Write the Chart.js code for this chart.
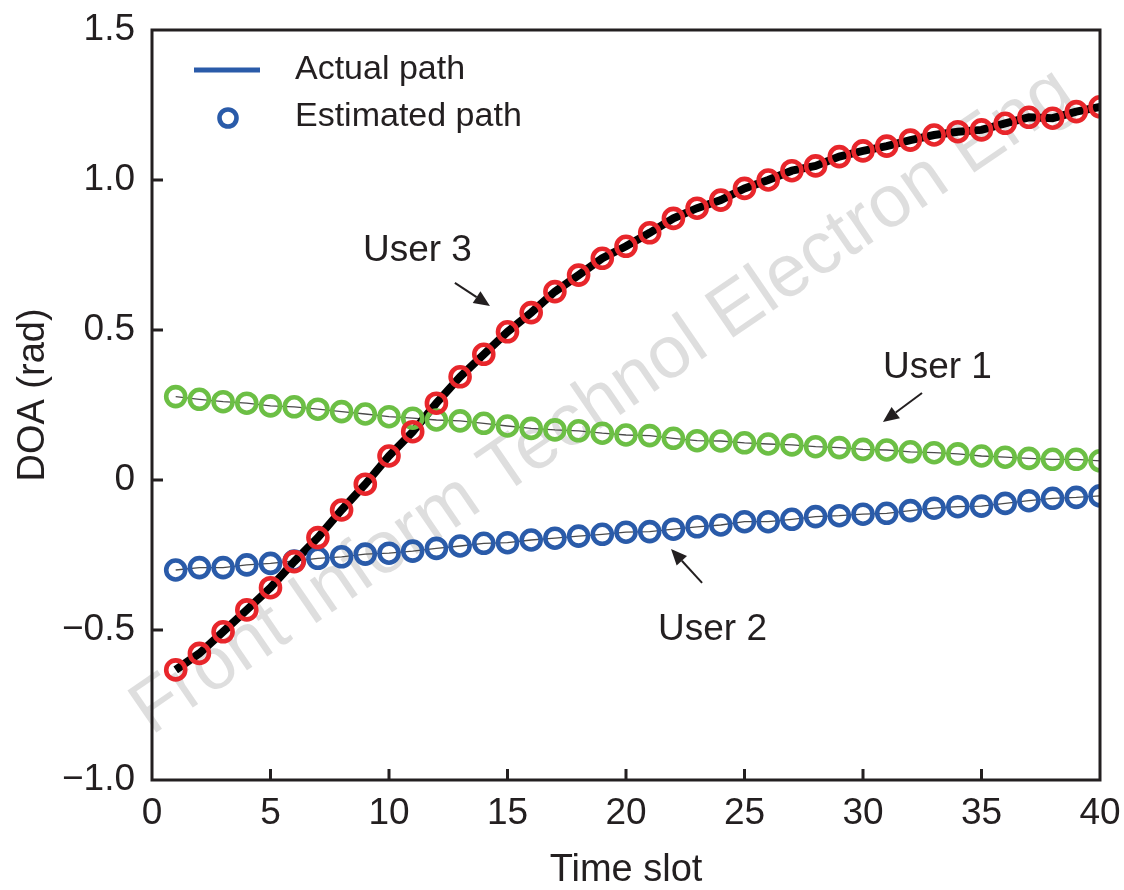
<!DOCTYPE html>
<html>
<head>
<meta charset="utf-8">
<script src="https://cdn.jsdelivr.net/npm/chart.js@4.4.1/dist/chart.umd.min.js"></script>
<style>
  html, body { margin: 0; padding: 0; background: #ffffff; }
  #wrap { width: 1124px; height: 890px; }
</style>
</head>
<body>
<div id="wrap"><canvas id="c" width="1124" height="890"></canvas></div>
<script>
// ---------------- data ----------------
const timeSlots = [1,2,3,4,5,6,7,8,9,10,11,12,13,14,15,16,17,18,19,20,21,22,23,24,25,26,27,28,29,30,31,32,33,34,35,36,37,38,39,40];
const user1 = [0.278,0.269,0.261,0.256,0.247,0.244,0.236,0.228,0.220,0.211,0.206,0.200,0.197,0.189,0.180,0.172,0.167,0.164,0.156,0.150,0.148,0.139,0.131,0.130,0.124,0.120,0.117,0.111,0.108,0.102,0.100,0.094,0.091,0.087,0.080,0.076,0.072,0.069,0.069,0.064];
const user2 = [-0.300,-0.292,-0.292,-0.283,-0.278,-0.270,-0.261,-0.256,-0.247,-0.244,-0.237,-0.228,-0.220,-0.211,-0.209,-0.200,-0.194,-0.187,-0.181,-0.174,-0.172,-0.164,-0.156,-0.150,-0.139,-0.139,-0.131,-0.122,-0.119,-0.114,-0.111,-0.102,-0.094,-0.089,-0.087,-0.078,-0.069,-0.061,-0.058,-0.053];
const user3 = [-0.633,-0.578,-0.506,-0.433,-0.359,-0.272,-0.192,-0.100,-0.014,0.080,0.161,0.256,0.344,0.419,0.494,0.558,0.628,0.683,0.739,0.779,0.824,0.872,0.906,0.933,0.972,1.000,1.031,1.047,1.078,1.097,1.113,1.133,1.150,1.161,1.167,1.189,1.209,1.206,1.228,1.244];
const xTickValues = [0,5,10,15,20,25,30,35,40];
const yTickValues = [-1.0,-0.5,0,0.5,1.0,1.5];
const yTickLabels = ['\u22121.0','\u22120.5','0','0.5','1.0','1.5'];
const legendLabels = ['Actual path','Estimated path'];
const xTitle = 'Time slot';
const yTitle = 'DOA (rad)';
const watermark = 'Front Inform Technol Electron Eng';
// annotations in data units: [label, textX, textY, arrowFromX, arrowFromY, arrowToX, arrowToY]
const annotations = [
  ['User 3', 8.90, 0.763, 12.78, 0.657, 14.26, 0.580],
  ['User 1', 30.84, 0.375, 32.49, 0.290, 30.84, 0.193],
  ['User 2', 21.35, -0.500, 23.21, -0.343, 21.90, -0.230]
];

// ---------------- styles ----------------
const FONT = '"Liberation Sans", Arial, sans-serif';
const INK = '#231f20';
const RED = '#e8262b';
const GREEN = '#6cbf45';
const BLUE = '#2a5ba9';

const pts = arr => timeSlots.map((t, i) => ({x: t, y: arr[i]}));

const lineDs = (arr, color, width, order) => ({
  data: pts(arr), showLine: true, borderColor: color, borderWidth: width, pointRadius: 0,
  pointHoverRadius: 0, fill: false, tension: 0, order: order
});
const markDs = (arr, color, order) => ({
  data: pts(arr), showLine: false, borderColor: color, backgroundColor: 'rgba(0,0,0,0)',
  pointRadius: 9.5, pointBorderWidth: 4.6, pointHoverRadius: 9.5, order: order
});

const framePlugin = {
  id: 'frame',
  beforeDatasetsDraw(chart) {
    const ctx = chart.ctx;
    ctx.save();
    ctx.translate(603, 402);
    ctx.rotate(-34.4 * Math.PI / 180);
    ctx.font = '74px ' + FONT;
    ctx.fillStyle = 'rgba(200,200,200,0.6)';
    ctx.textAlign = 'center';
    ctx.textBaseline = 'middle';
    ctx.fillText(watermark, 0, 0);
    ctx.restore();
  },
  afterDatasetsDraw(chart) {
    const ctx = chart.ctx, a = chart.chartArea;
    const xs = chart.scales.x, ys = chart.scales.y;
    ctx.save();
    // frame
    ctx.strokeStyle = INK;
    ctx.lineWidth = 3;
    ctx.strokeRect(a.left, a.top, a.right - a.left, a.bottom - a.top);
    // inward ticks
    ctx.beginPath();
    xTickValues.forEach(v => {
      const px = xs.getPixelForValue(v);
      if (v > xs.min && v < xs.max) { ctx.moveTo(px, a.bottom); ctx.lineTo(px, a.bottom - 11); }
    });
    yTickValues.forEach(v => {
      const py = ys.getPixelForValue(v);
      if (v > ys.min && v < ys.max) { ctx.moveTo(a.left, py); ctx.lineTo(a.left + 11, py); }
    });
    ctx.stroke();

    // annotations
    ctx.fillStyle = INK;
    ctx.strokeStyle = INK;
    ctx.font = '37px ' + FONT;
    ctx.textAlign = 'left';
    ctx.textBaseline = 'middle';
    annotations.forEach(an => {
      const tx = xs.getPixelForValue(an[1]), ty = ys.getPixelForValue(an[2]);
      ctx.fillText(an[0], tx, ty);
      const x0 = xs.getPixelForValue(an[3]), y0 = ys.getPixelForValue(an[4]);
      const x1 = xs.getPixelForValue(an[5]), y1 = ys.getPixelForValue(an[6]);
      const ang = Math.atan2(y1 - y0, x1 - x0);
      const hl = 16, hw = 7;
      const bx = x1 - hl * Math.cos(ang), by = y1 - hl * Math.sin(ang);
      ctx.lineWidth = 2;
      ctx.beginPath(); ctx.moveTo(x0, y0); ctx.lineTo(bx, by); ctx.stroke();
      ctx.beginPath();
      ctx.moveTo(x1, y1);
      ctx.lineTo(bx + hw * Math.sin(ang), by - hw * Math.cos(ang));
      ctx.lineTo(bx - hw * Math.sin(ang), by + hw * Math.cos(ang));
      ctx.closePath(); ctx.fill();
    });

    // legend
    ctx.strokeStyle = BLUE;
    ctx.lineWidth = 5;
    ctx.beginPath(); ctx.moveTo(194, 70); ctx.lineTo(260, 70); ctx.stroke();
    ctx.lineWidth = 4.6;
    ctx.beginPath(); ctx.arc(228, 118, 8.5, 0, Math.PI * 2); ctx.stroke();
    ctx.fillStyle = INK;
    ctx.font = '34px ' + FONT;
    ctx.fillText(legendLabels[0], 295, 70);
    ctx.fillText(legendLabels[1], 295, 117);

    // axis titles
    ctx.font = '38px ' + FONT;
    ctx.textAlign = 'center';
    ctx.fillText(xTitle, (a.left + a.right) / 2, 871);
    ctx.translate(34, 395);
    ctx.rotate(-Math.PI / 2);
    ctx.fillText(yTitle, 0, 0);
    ctx.restore();
  }
};

const zeroPad = s => { s.paddingTop = 0; s.paddingBottom = 0; s.paddingLeft = 0; s.paddingRight = 0; };

new Chart(document.getElementById('c'), {
  type: 'scatter',
  data: {
    datasets: [
      lineDs(user1, '#4a4a4a', 1.3, 6),
      lineDs(user2, '#4a4a4a', 1.3, 5),
      lineDs(user3, '#000000', 8, 4),
      markDs(user1, GREEN, 3),
      markDs(user2, BLUE, 2),
      markDs(user3, RED, 1)
    ]
  },
  options: {
    responsive: false,
    animation: false,
    devicePixelRatio: 1,
    layout: { padding: { top: 30, right: 24, left: 0, bottom: 0 } },
    plugins: { legend: { display: false }, tooltip: { enabled: false } },
    events: [],
    scales: {
      x: {
        type: 'linear', min: 0, max: 40,
        afterFit: s => { s.height = 110; zeroPad(s); },
        afterBuildTicks: s => { s.ticks = xTickValues.map(v => ({value: v})); },
        grid: { display: false, drawTicks: false },
        border: { display: false },
        ticks: { color: INK, font: { family: FONT, size: 37 }, padding: 12, maxRotation: 0, autoSkip: false }
      },
      y: {
        type: 'linear', min: -1.0, max: 1.5,
        afterFit: s => { s.width = 152; zeroPad(s); },
        afterBuildTicks: s => { s.ticks = yTickValues.map(v => ({value: v})); },
        grid: { display: false, drawTicks: false },
        border: { display: false },
        ticks: {
          color: INK, font: { family: FONT, size: 37 }, padding: 17, autoSkip: false,
          callback: v => { const i = yTickValues.indexOf(v); return i >= 0 ? yTickLabels[i] : ''; }
        }
      }
    }
  },
  plugins: [framePlugin]
});
</script>
</body>
</html>
